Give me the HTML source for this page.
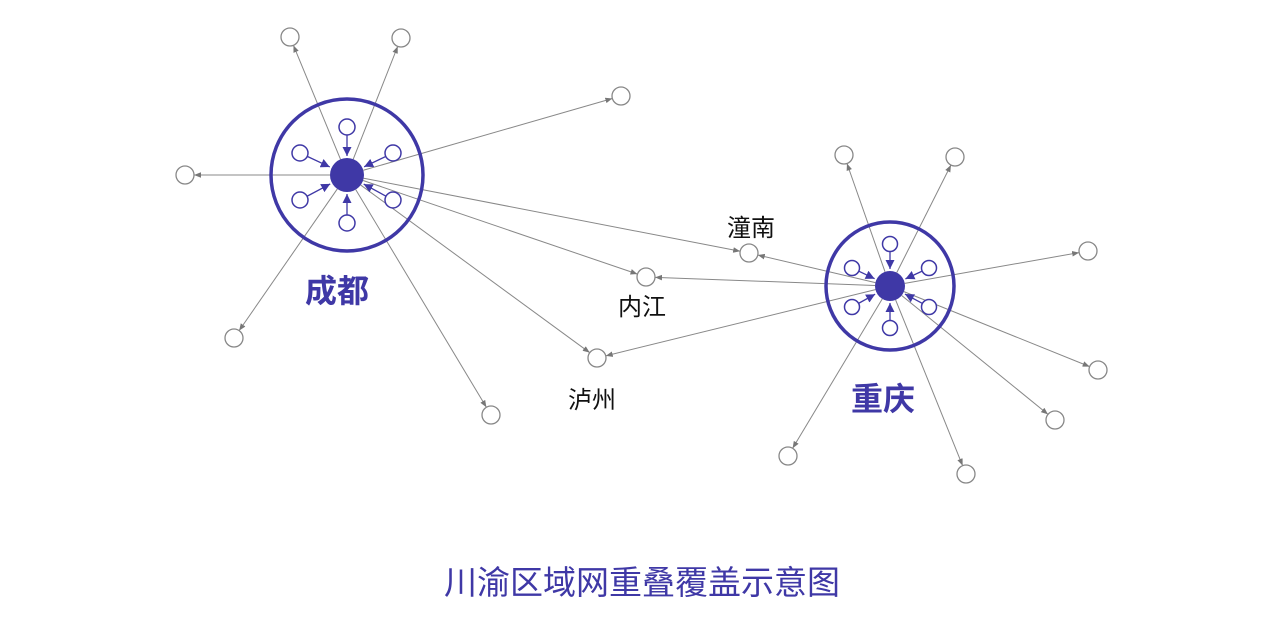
<!DOCTYPE html>
<html><head><meta charset="utf-8">
<style>
html,body{margin:0;padding:0;background:#fff;}
svg{display:block;}
text{font-family:"Liberation Sans","Noto Sans CJK SC",sans-serif;}
</style></head>
<body>
<svg id="s" width="1282" height="628" viewBox="0 0 1282 628" xmlns="http://www.w3.org/2000/svg">
<defs>
<marker id="ag" viewBox="0 0 10 10" refX="10" refY="5" markerWidth="7" markerHeight="7" orient="auto-start-reverse" markerUnits="userSpaceOnUse"><path d="M0,1 L10,5 L0,9 z" fill="#777"/></marker>
<marker id="ap" viewBox="0 0 10 10" refX="10" refY="5" markerWidth="9" markerHeight="9" orient="auto" markerUnits="userSpaceOnUse"><path d="M0,0 L10,5 L0,10 z" fill="#3f38a6"/></marker>
</defs>
<g id="lines"></g>
<circle cx="347" cy="175" r="76" fill="none" stroke="#3f38a6" stroke-width="3.5"/>
<circle cx="890" cy="286" r="64" fill="none" stroke="#3f38a6" stroke-width="3.5"/>
<g id="nodes"></g>
<text x="337" y="302" font-size="32" fill="#3f38a6" text-anchor="middle" font-weight="bold">成都</text>
<text x="883" y="410" font-size="32" fill="#3f38a6" text-anchor="middle" font-weight="bold">重庆</text>
<text x="751" y="236" font-size="24" fill="#111" text-anchor="middle">潼南</text>
<text x="642" y="315" font-size="24" fill="#111" text-anchor="middle">内江</text>
<text x="592" y="408" font-size="24" fill="#111" text-anchor="middle">泸州</text>
<text x="642" y="594" font-size="33" fill="#3f38a6" text-anchor="middle">川渝区域网重叠覆盖示意图</text>
</svg>
<script>
var NS="http://www.w3.org/2000/svg";
var L=document.getElementById('lines'),N=document.getElementById('nodes');
function el(p,t,a){var e=document.createElementNS(NS,t);for(var k in a)e.setAttribute(k,a[k]);p.appendChild(e);return e;}
function seg(x1,y1,r1,x2,y2,r2,stroke,w,mk){var dx=x2-x1,dy=y2-y1,d=Math.hypot(dx,dy),ux=dx/d,uy=dy/d;
 el(L,'line',{x1:x1+ux*r1,y1:y1+uy*r1,x2:x2-ux*r2,y2:y2-uy*r2,stroke:stroke,'stroke-width':w,'marker-end':'url(#'+mk+')'});}
var hubs=[{x:347,y:175,r:17,sr:8,d:48,d2:47},{x:890,y:286,r:15,sr:7.5,d:42,d2:39}];
var outs=[[[290,37],[401,38],[621,96],[185,175],[234,338],[491,415],[749,253],[646,277],[597,358]],
[[844,155],[955,157],[1088,251],[1098,370],[1055,420],[966,474],[788,456],[749,253],[646,277],[597,358]]];
hubs.forEach(function(h,i){
 outs[i].forEach(function(o){seg(h.x,h.y,h.r,o[0],o[1],9,'#888',1,'ag');});
});
var done={};
outs.forEach(function(a){a.forEach(function(o){var k=o+'';if(done[k])return;done[k]=1;el(N,'circle',{cx:o[0],cy:o[1],r:9,fill:'#fff',stroke:'#888','stroke-width':1.3});});});
var sm=[[[347,127],[300,153],[393,153],[300,200],[393,200],[347,223]],[[890,244],[852,268],[929,268],[852,307],[929,307],[890,328]]];
hubs.forEach(function(h,i){
 sm[i].forEach(function(s){seg(s[0],s[1],h.sr,h.x,h.y,h.r+2,'#3f38a6',1.3,'ap');el(N,'circle',{cx:s[0],cy:s[1],r:h.sr,fill:'#fff',stroke:'#3f38a6','stroke-width':1.5});});
 el(N,'circle',{cx:h.x,cy:h.y,r:h.r,fill:'#3f38a6'});
});
</script>
</body></html>
